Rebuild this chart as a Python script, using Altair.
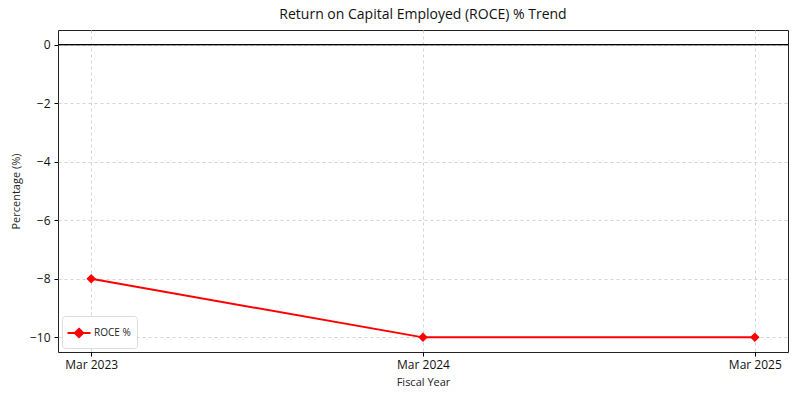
import altair as alt
import pandas as pd

years = ["Mar 2023", "Mar 2024", "Mar 2025"]
roce = [-8, -10, -10]
series = "ROCE %"

df = pd.DataFrame({"year": years, "roce": roce, "series": [series] * len(years)})

FONT = "Open Sans"

x = alt.X("year:N", sort=years,
          scale=alt.Scale(type="point", padding=0.1),
          axis=alt.Axis(title="Fiscal Year", labelAngle=0, grid=True,
                        gridDash=[3, 3], gridColor="#d3d3d3",
                        tickColor="#000", tickSize=4, domain=False,
                        labelFontSize=12, titleFontSize=11, titleFontWeight="normal",
                        labelColor="#111", titleColor="#222", labelPadding=3, titlePadding=6))
y = alt.Y("roce:Q", scale=alt.Scale(domain=[-10.5, 0.5], nice=False, zero=False),
          axis=alt.Axis(title="Percentage (%)", values=[-10, -8, -6, -4, -2, 0],
                        grid=True, gridDash=[3, 3], gridColor="#d3d3d3",
                        tickColor="#000", tickSize=4, domain=False,
                        labelFontSize=12, titleFontSize=11, titleFontWeight="normal",
                        labelColor="#111", titleColor="#222", labelPadding=4, titlePadding=8))

color = alt.Color("series:N", scale=alt.Scale(domain=[series], range=["red"]),
                  legend=alt.Legend(title=None, orient="bottom-left", offset=4,
                                    symbolType="M-1.15,0H1.15M0,-0.42L0.42,0L0,0.42L-0.42,0Z",
                                    symbolSize=400, symbolStrokeWidth=2,
                                    symbolFillColor="red", symbolStrokeColor="red",
                                    labelFontSize=10, labelColor="#222",
                                    fillColor="white", strokeColor="#dddddd",
                                    cornerRadius=3, padding=6))

zero = alt.Chart(df).mark_rule(color="black", strokeWidth=1).encode(y=alt.datum(0))

line = alt.Chart(df).mark_line(strokeWidth=2, point=alt.OverlayMarkDef(
    shape="diamond", size=90, filled=True, color="red", opacity=1)).encode(
    x=x, y=y, color=color)

chart = alt.layer(line, zero).properties(
    width=730, height=322,
    title=alt.TitleParams("Return on Capital Employed (ROCE) % Trend",
                          fontSize=14, font=FONT, fontWeight="normal", color="#111",
                          anchor="middle", offset=8),
    padding={"left": 58, "top": 30, "right": 12, "bottom": 48},
    autosize=alt.AutoSizeParams(type="none"),
).configure(font=FONT).configure_view(stroke="#222", strokeWidth=1)

chart.save("out.html", embed_options={"renderer": "svg", "actions": False})
